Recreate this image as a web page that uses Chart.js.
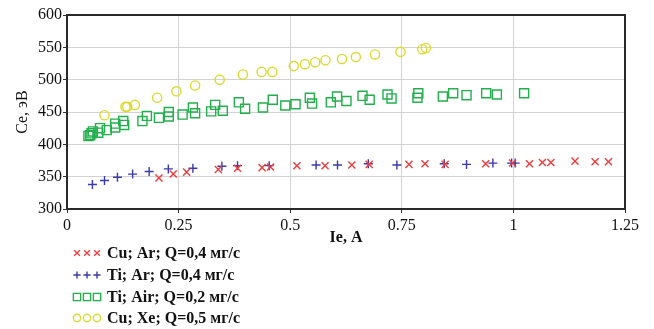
<!DOCTYPE html>
<html>
<head>
<meta charset="utf-8">
<script src="https://cdn.jsdelivr.net/npm/chart.js@4/dist/chart.umd.min.js"></script>
<style>
  body { margin: 0; background: #fff; }
  #wrap { width: 654px; height: 329px; position: relative; }
</style>
</head>
<body>
<div id="wrap"><canvas id="mainChart"></canvas></div>
<script>
// --- Data (Ie, A ; Ce, эВ) ---
const cuArX = [0.206, 0.238, 0.268, 0.339, 0.382, 0.437, 0.456, 0.515, 0.578, 0.638, 0.677, 0.766, 0.802, 0.847, 0.938, 0.998, 1.036, 1.065, 1.084, 1.138, 1.183, 1.213];
const cuArY = [348, 354, 357, 361, 363, 364, 365, 367, 367, 368, 369, 369, 370, 369, 370, 371, 370, 372, 372, 374, 373, 373];

const tiArX = [0.057, 0.084, 0.113, 0.147, 0.184, 0.227, 0.282, 0.347, 0.382, 0.453, 0.558, 0.606, 0.675, 0.739, 0.845, 0.895, 0.954, 0.996, 1.004];
const tiArY = [338, 344, 349, 354, 358, 362, 363, 366, 367, 367, 368, 368, 370, 368, 370, 369, 371, 371, 371];

const tiAirX = [0.048, 0.052, 0.055, 0.058, 0.070, 0.074, 0.089, 0.108, 0.108, 0.126, 0.128, 0.169, 0.179, 0.206, 0.228, 0.228, 0.259, 0.282, 0.287, 0.323, 0.332, 0.349, 0.385, 0.399, 0.439, 0.461, 0.489, 0.512, 0.544, 0.549, 0.591, 0.605, 0.626, 0.662, 0.678, 0.718, 0.727, 0.787, 0.785, 0.842, 0.865, 0.895, 0.939, 0.963, 1.024];
const tiAirY = [413, 414, 417, 420, 418, 425, 422, 426, 432, 436, 430, 436, 444, 441, 443, 450, 446, 457, 448, 451, 461, 452, 465, 455, 457, 469, 460, 462, 472, 463, 465, 474, 467, 475, 469, 477, 471, 479, 472, 474, 479, 476, 479, 477, 479];

const cuXeX = [0.084, 0.131, 0.135, 0.152, 0.202, 0.245, 0.287, 0.342, 0.394, 0.436, 0.460, 0.508, 0.533, 0.556, 0.579, 0.616, 0.647, 0.690, 0.747, 0.796, 0.804];
const cuXeY = [445, 458, 458, 461, 472, 482, 491, 500, 508, 512, 512, 521, 524, 527, 530, 532, 535, 539, 543, 547, 549];

const xTicks = [0, 0.25, 0.5, 0.75, 1, 1.25];
const yTicks = [300, 350, 400, 450, 500, 550, 600];

const seriesNames = ['Cu; Ar; Q=0,4 мг/с', 'Ti; Ar; Q=0,4 мг/с', 'Ti; Air; Q=0,2 мг/с', 'Cu; Xe; Q=0,5 мг/с'];

// --- Styles ---
const SERIF = '"Liberation Serif", "Times New Roman", serif';
const STYLES = [
    { color: '#f03c3c', style: 'crossRot', radius: 5, width: 1.4 },
    { color: '#3a3aa8', style: 'cross', radius: 4.5, width: 1.4 },
    { color: '#22b04c', style: 'rect', radius: 6.4, width: 1.4 },
    { color: '#dada2e', style: 'circle', radius: 4.6, width: 1.4 }
];

function toPoints(xs, ys) {
    return xs.map((x, i) => ({ x: x, y: ys[i] }));
}

const allSeries = [
    toPoints(cuArX, cuArY),
    toPoints(tiArX, tiArY),
    toPoints(tiAirX, tiAirY),
    toPoints(cuXeX, cuXeY)
];

// frame around the plot area
const framePlugin = {
    id: 'frame',
    beforeDatasetsDraw(chart) {
        const { ctx, chartArea: a } = chart;
        ctx.save();
        ctx.strokeStyle = '#2a2a2a';
        ctx.lineWidth = 2;
        ctx.strokeRect(a.left, a.top, a.right - a.left, a.bottom - a.top);
        ctx.restore();
    }
};

// legend below the chart, three markers per entry
const legendPlugin = {
    id: 'bottomLegend',
    afterDraw(chart) {
        const ctx = chart.ctx;
        const rowY = [253, 275, 297, 318];
        ctx.save();
        ctx.font = 'bold 16px ' + SERIF;
        ctx.textBaseline = 'middle';
        STYLES.forEach((s, i) => {
            ctx.strokeStyle = s.color;
            ctx.fillStyle = 'rgba(0,0,0,0)';
            ctx.lineWidth = s.width;
            [77, 87, 97].forEach(cx => {
                Chart.helpers.drawPoint(ctx, { pointStyle: s.style, radius: s.radius * 0.8, borderWidth: s.width }, cx, rowY[i]);
            });
            ctx.fillStyle = '#111';
            ctx.fillText(seriesNames[i], 107, rowY[i] + 1);
        });
        ctx.restore();
    }
};

const ctx = document.getElementById('mainChart').getContext('2d');

new Chart(ctx, {
    type: 'scatter',
    data: {
        datasets: allSeries.map((pts, i) => ({
            label: seriesNames[i],
            data: pts,
            pointStyle: STYLES[i].style,
            pointRadius: STYLES[i].radius,
            pointBorderWidth: STYLES[i].width,
            borderColor: STYLES[i].color,
            backgroundColor: 'rgba(0,0,0,0)',
            pointHoverRadius: STYLES[i].radius
        }))
    },
    options: {
        responsive: true,
        maintainAspectRatio: false,
        animation: false,
        layout: { padding: { left: 0, top: 15, right: 29, bottom: 82 } },
        plugins: {
            legend: { display: false },
            tooltip: { enabled: false }
        },
        scales: {
            x: {
                type: 'linear',
                min: 0,
                max: 1.25,
                afterBuildTicks: (scale) => { scale.ticks = xTicks.map(v => ({ value: v })); },
                afterFit: (scale) => { scale.height = 38; },
                ticks: {
                    padding: 3,
                    color: '#111',
                    font: { family: SERIF, size: 16 },
                    callback: (v) => String(v)
                },
                grid: { color: '#d2d2d2', tickLength: 4, tickColor: '#333' },
                border: { display: false },
                title: {
                    display: true,
                    text: 'Ie, A',
                    color: '#111',
                    padding: 0,
                    font: { family: SERIF, size: 16, weight: 'bold' }
                }
            },
            y: {
                type: 'linear',
                min: 300,
                max: 600,
                afterBuildTicks: (scale) => { scale.ticks = yTicks.map(v => ({ value: v })); },
                afterFit: (scale) => { scale.width = 67; },
                ticks: {
                    padding: 1,
                    color: '#111',
                    font: { family: SERIF, size: 16 }
                },
                grid: { color: '#d2d2d2', tickLength: 4, tickColor: '#333' },
                border: { display: false },
                title: {
                    display: true,
                    text: 'Ce, эВ',
                    color: '#111',
                    padding: { top: 13, bottom: 0 },
                    font: { family: SERIF, size: 16 }
                }
            }
        }
    },
    plugins: [framePlugin, legendPlugin]
});
</script>
</body>
</html>
